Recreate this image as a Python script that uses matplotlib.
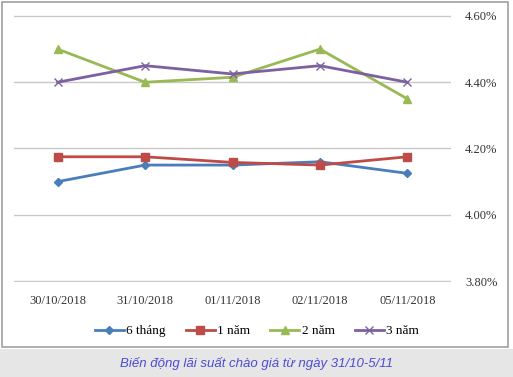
import matplotlib
matplotlib.use("Agg")
import matplotlib.pyplot as plt
from matplotlib.patches import Rectangle
from matplotlib.ticker import FuncFormatter

dates = ["30/10/2018", "31/10/2018", "01/11/2018", "02/11/2018", "05/11/2018"]
s6thang = [4.10, 4.15, 4.15, 4.16, 4.125]
s1nam = [4.175, 4.175, 4.158, 4.15, 4.175]
s2nam = [4.50, 4.40, 4.415, 4.50, 4.35]
s3nam = [4.40, 4.45, 4.425, 4.45, 4.40]
yticks = [3.80, 4.00, 4.20, 4.40, 4.60]

W, H = 513, 377
fig = plt.figure(figsize=(W / 100, H / 100), dpi=100)
serif = "Liberation Serif"

# outer chart frame and caption band (behind the axes)
fig.patches.append(Rectangle((2 / W, 1 - 347 / H), 506 / W, 345 / H, transform=fig.transFigure,
                             facecolor="white", edgecolor="#a0a0a0", linewidth=1.2, zorder=-10))
fig.patches.append(Rectangle((0, 0), 1, (H - 349) / H, transform=fig.transFigure,
                             facecolor="#e6e6e6", edgecolor="none", zorder=-10))
fig.text(0.5, 1 - 364 / H, "Biến động lãi suất chào giá từ ngày 31/10-5/11", ha="center", va="center",
         fontsize=9.5, style="italic", color="#4b4bd6", family="Liberation Sans")

ax = fig.add_axes([14 / W, 1 - 282 / H, (451 - 14) / W, (282 - 15) / H])
ax.patch.set_visible(False)
x = range(len(dates))
ax.plot(x, s6thang, color="#4a7ebb", lw=2, marker="D", ms=4, label="6 tháng")
ax.plot(x, s1nam, color="#be4b48", lw=2, marker="s", ms=6, label="1 năm")
ax.plot(x, s2nam, color="#98b954", lw=2, marker="^", ms=6, label="2 năm")
ax.plot(x, s3nam, color="#7d60a0", lw=2, marker="x", ms=6, mew=1, label="3 năm")

ax.set_xlim(-0.5, len(dates) - 0.5)
ax.set_ylim(3.797, 4.603)
ax.set_yticks(yticks)
ax.yaxis.set_major_formatter(FuncFormatter(lambda v, p: f"{v:.2f}%"))
ax.yaxis.tick_right()
ax.set_xticks(list(x))
ax.set_xticklabels(dates)
ax.grid(axis="y", color="#c8c8c8", lw=1)
ax.set_axisbelow(True)
for s in ax.spines.values():
    s.set_visible(False)
ax.tick_params(length=0, labelsize=9, colors="#333333")
ax.tick_params(axis="y", pad=10)
ax.tick_params(axis="x", pad=9)
for lab in ax.get_xticklabels() + ax.get_yticklabels():
    lab.set_family(serif)

leg = fig.legend(loc="center", bbox_to_anchor=(257 / W, 1 - 331 / H), ncol=4, frameon=False,
                 prop={"family": serif, "size": 9.5}, handlelength=2.2, handletextpad=0.2,
                 columnspacing=1.5)

fig.savefig("out.png", dpi=100)
